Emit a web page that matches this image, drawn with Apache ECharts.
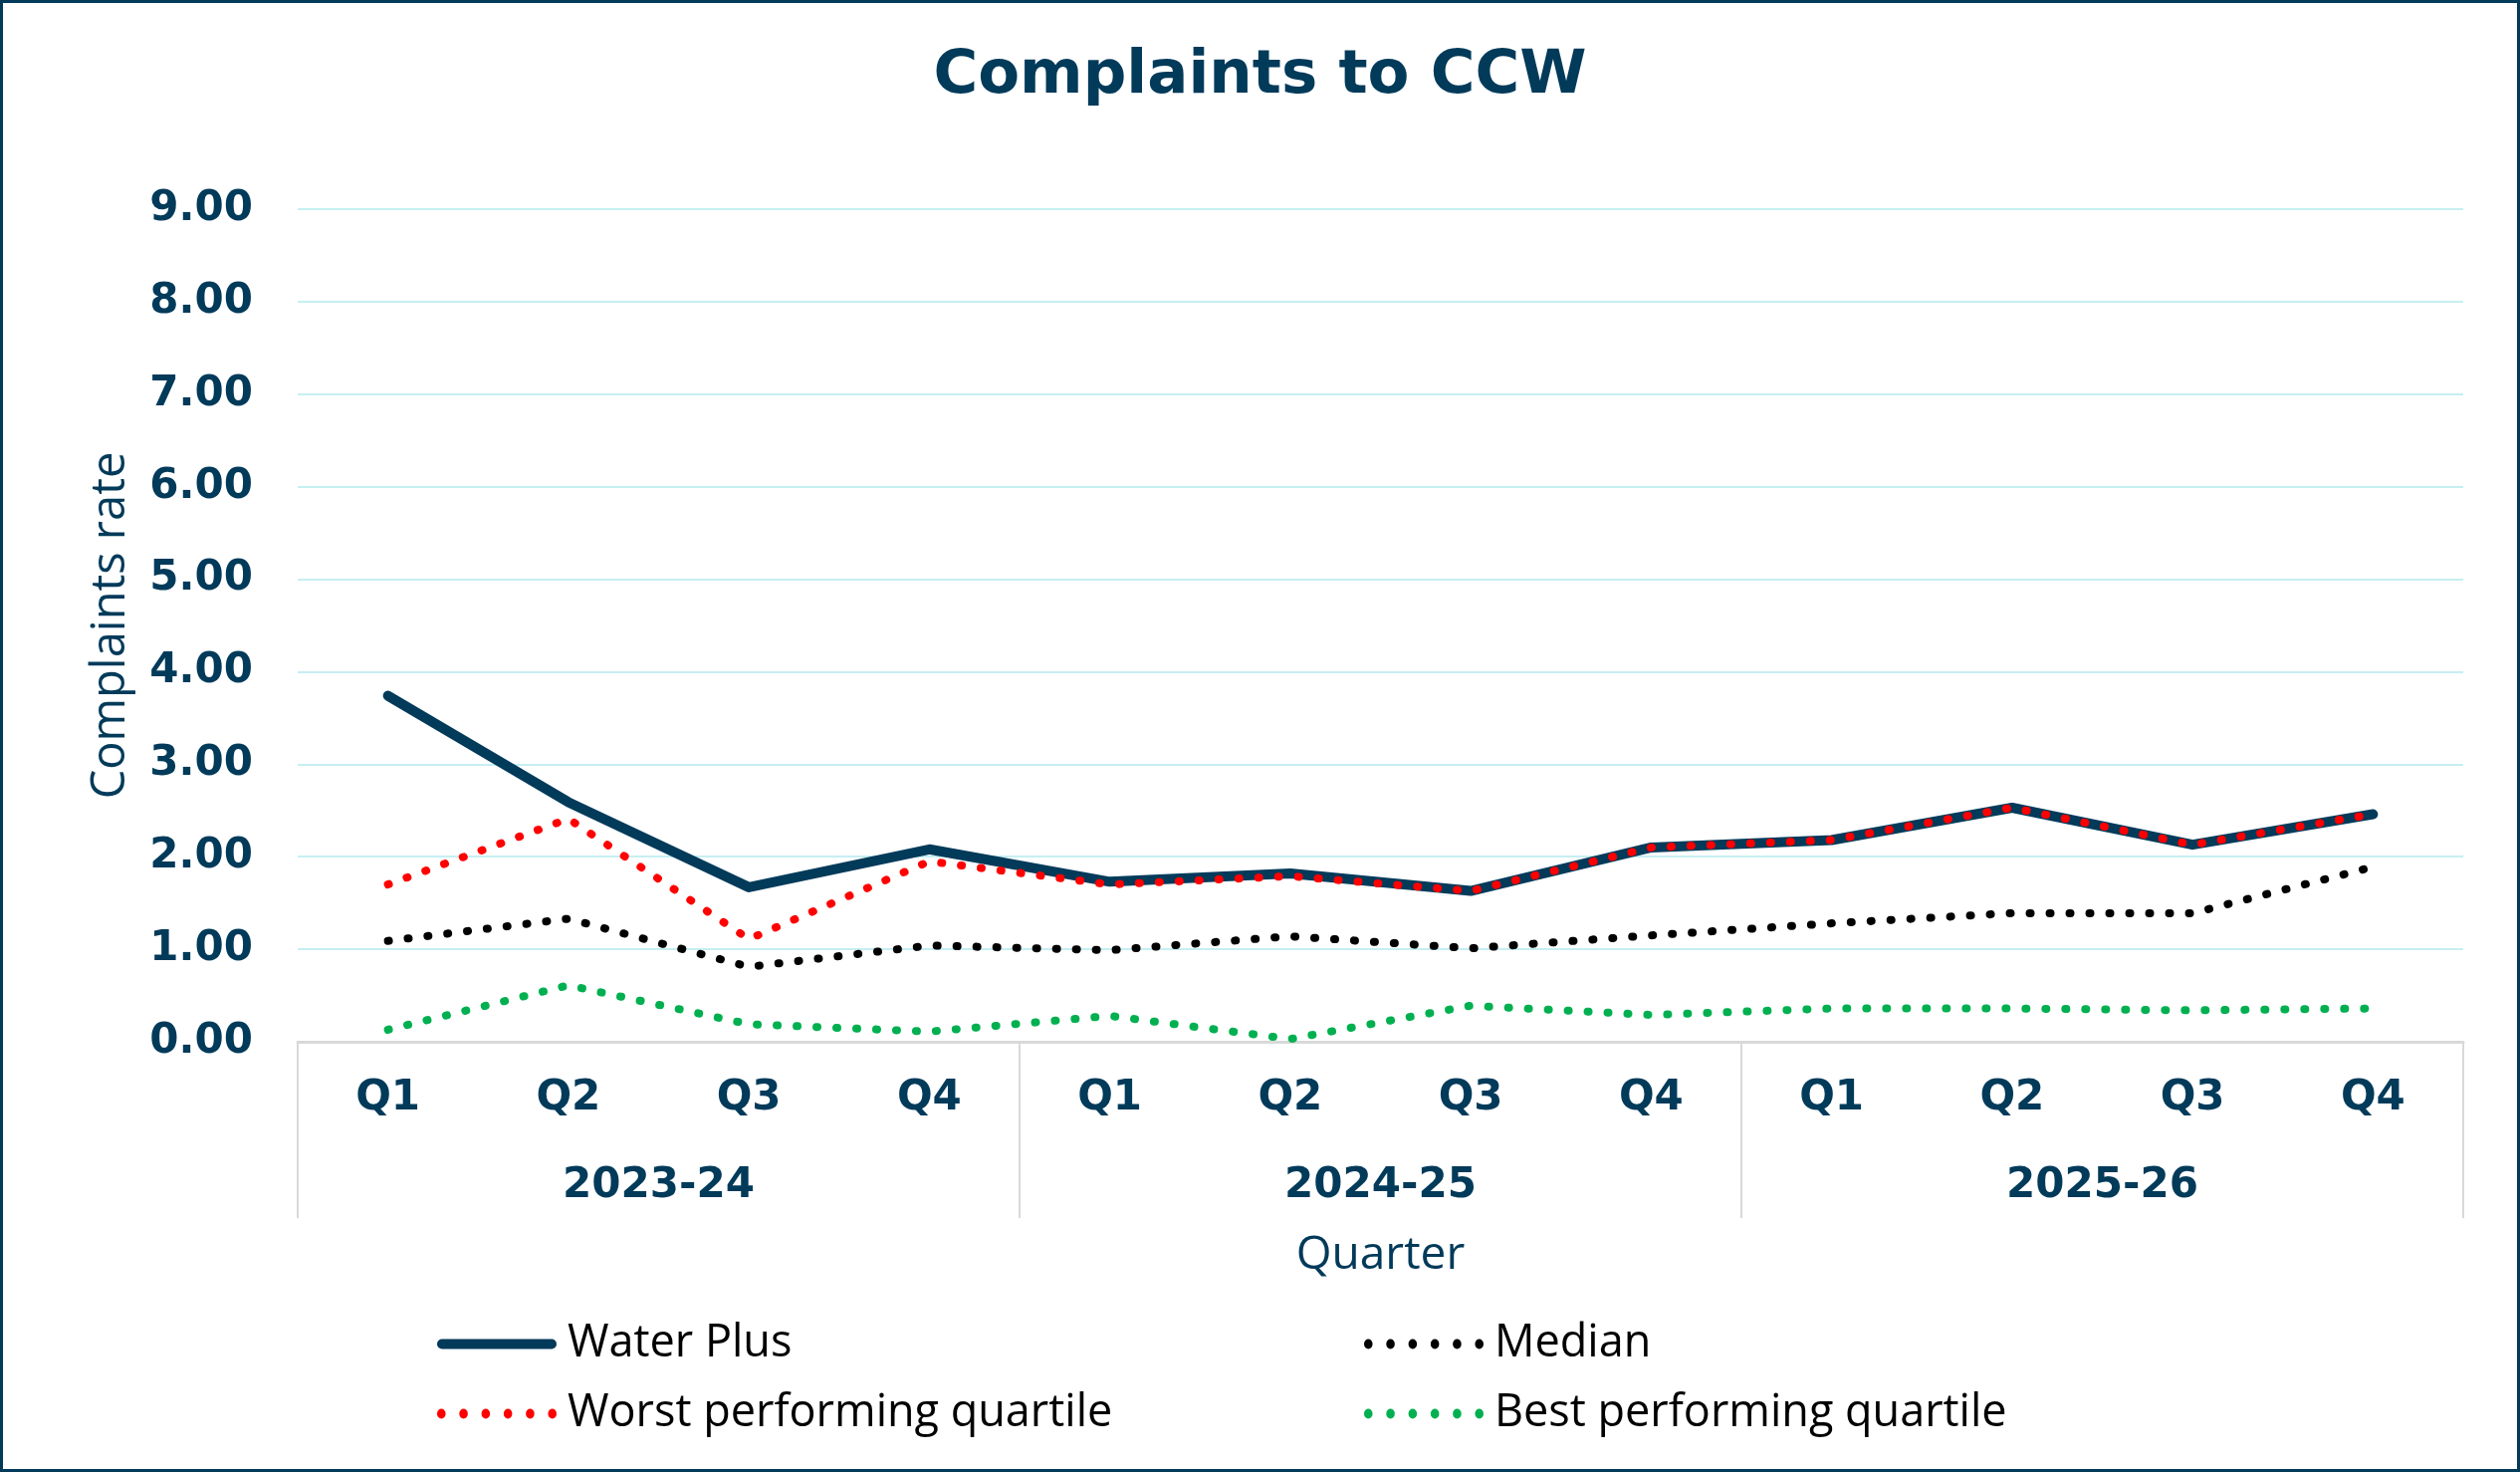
<!DOCTYPE html>
<html>
<head>
<meta charset="utf-8">
<script src="https://cdn.jsdelivr.net/npm/echarts@6/dist/echarts.min.js"></script>
<style>
    html, body { margin: 0; padding: 0; background: #fff; }
    #chart { width: 2531px; height: 1478px; }
</style>
</head>
<body>
<div id="chart"></div>
<script>
// quarters and financial years
const quarters = ['Q1', 'Q2', 'Q3', 'Q4', 'Q1', 'Q2', 'Q3', 'Q4', 'Q1', 'Q2', 'Q3', 'Q4']
const years = ['2023-24', '2024-25', '2025-26']

// complaints rate per quarter
const waterPlus = [3.74, 2.59, 1.67, 2.08, 1.73, 1.82, 1.63, 2.10, 2.18, 2.53, 2.13, 2.46]
const worstQuartile = [1.70, 2.41, 1.11, 1.95, 1.70, 1.79, 1.63, 2.10, 2.18, 2.53, 2.13, 2.46]
const median = [1.09, 1.33, 0.81, 1.04, 0.99, 1.14, 1.01, 1.15, 1.28, 1.39, 1.39, 1.89]
const bestQuartile = [0.13, 0.61, 0.19, 0.11, 0.28, 0.03, 0.39, 0.29, 0.36, 0.36, 0.34, 0.36]

const yTicks = [0, 1, 2, 3, 4, 5, 6, 7, 8, 9]

const navy = '#023a5a'
const boldFont = 'DejaVu Sans'
const lightFont = 'Open Sans'

let myChart = echarts.init(document.getElementById('chart'))

// legend icons: a thick bar and a row of six round dots
let barIcon = 'path://M5 0L115 0A5 5 0 0 1 115 10L5 10A5 5 0 0 1 5 0Z'
let dotIcon = 'path://'
for (let i = 0; i < 6; i++) {
    let cx = 5 + i * 20.8
    dotIcon += 'M' + (cx - 4) + ' 5A4 5 0 1 0 ' + (cx + 4) + ' 5A4 5 0 1 0 ' + (cx - 4) + ' 5Z'
}

let dotted = function (color) {
    return {
        color: color,
        width: 8,
        type: [1, 19],
        cap: 'round'
    }
}

let legendText = { fontFamily: lightFont, fontSize: 45, color: '#000', padding: [0, 0, 0, 6] }

let option = {
    backgroundColor: '#fff',
    animation: false,
    title: {
        text: 'Complaints to CCW',
        left: 'center',
        top: 42,
        textStyle: {
            fontFamily: boldFont,
            fontWeight: 'bold',
            fontSize: 61,
            color: navy
        }
    },
    graphic: [{
        type: 'rect',
        shape: { x: 1.5, y: 1.5, width: 2528, height: 1475 },
        style: { fill: 'none', stroke: navy, lineWidth: 3 },
        silent: true
    }],
    legend: [
        {
            orient: 'vertical',
            left: 434,
            top: 1322,
            itemWidth: 120,
            itemHeight: 10,
            itemGap: 25,
            symbolKeepAspect: false,
            data: [
                { name: 'Water Plus', icon: barIcon },
                { name: 'Worst performing quartile', icon: dotIcon }
            ],
            textStyle: legendText
        },
        {
            orient: 'vertical',
            left: 1365,
            top: 1322,
            itemWidth: 120,
            itemHeight: 10,
            itemGap: 25,
            symbolKeepAspect: false,
            data: [
                { name: 'Median', icon: dotIcon },
                { name: 'Best performing quartile', icon: dotIcon }
            ],
            textStyle: legendText
        }
    ],
    grid: {
        left: 299,
        right: 57,
        top: 210,
        bottom: 432,
        containLabel: false
    },
    xAxis: [
        {
            type: 'category',
            data: quarters,
            position: 'bottom',
            axisLine: { show: true, lineStyle: { color: '#d9d9d9', width: 3 } },
            axisTick: { show: false },
            axisLabel: {
                margin: 36,
                fontFamily: boldFont,
                fontWeight: 'bold',
                fontSize: 42,
                color: navy
            },
            splitLine: { show: false }
        },
        {
            type: 'category',
            data: years,
            position: 'bottom',
            axisLine: { show: false },
            axisTick: { show: true, length: 177, lineStyle: { color: '#d9d9d9', width: 2 } },
            axisLabel: {
                margin: 124,
                fontFamily: boldFont,
                fontWeight: 'bold',
                fontSize: 42,
                color: navy
            },
            name: 'Quarter',
            nameLocation: 'middle',
            nameGap: 192,
            nameTextStyle: {
                fontFamily: lightFont,
                fontSize: 46,
                color: navy
            },
            splitLine: { show: false }
        }
    ],
    yAxis: {
        type: 'value',
        min: yTicks[0],
        max: yTicks[yTicks.length - 1],
        interval: 1,
        axisLine: { show: false },
        axisTick: { show: false },
        axisLabel: {
            margin: 45,
            fontFamily: boldFont,
            fontWeight: 'bold',
            fontSize: 42,
            color: navy,
            formatter: function (v) { return v.toFixed(2) }
        },
        splitLine: { lineStyle: { color: '#c6eff2', width: 2 } },
        name: 'Complaints rate',
        nameLocation: 'middle',
        nameRotate: 90,
        nameGap: 164,
        nameTextStyle: {
            fontFamily: lightFont,
            fontSize: 47,
            color: navy
        }
    },
    series: [
        {
            name: 'Water Plus',
            type: 'line',
            data: waterPlus,
            symbol: 'none',
            color: navy,
            itemStyle: { color: navy },
            lineStyle: { color: navy, width: 10, cap: 'round', join: 'round' }
        },
        {
            name: 'Worst performing quartile',
            type: 'line',
            data: worstQuartile,
            symbol: 'none',
            color: '#ff0000',
            itemStyle: { color: '#ff0000' },
            lineStyle: dotted('#ff0000')
        },
        {
            name: 'Median',
            type: 'line',
            data: median,
            symbol: 'none',
            color: '#000000',
            itemStyle: { color: '#000000' },
            lineStyle: dotted('#000000')
        },
        {
            name: 'Best performing quartile',
            type: 'line',
            data: bestQuartile,
            symbol: 'none',
            color: '#00b050',
            itemStyle: { color: '#00b050' },
            lineStyle: dotted('#00b050')
        }
    ]
}

myChart.setOption(option)
</script>
</body>
</html>
